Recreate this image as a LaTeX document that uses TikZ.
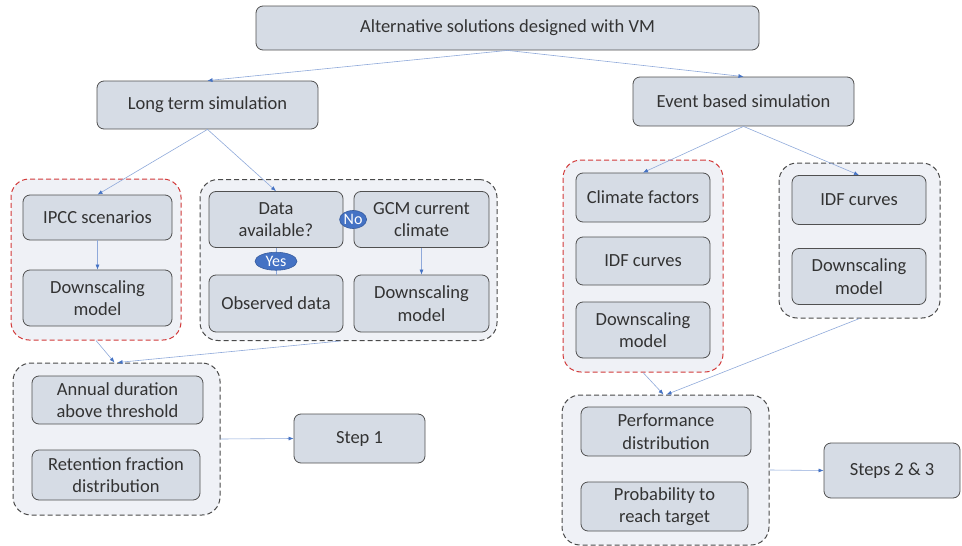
\documentclass[tikz,border=0pt]{standalone}
\usepackage{fontspec}
\setmainfont{Carlito}
\usetikzlibrary{arrows.meta,shapes.geometric}

\definecolor{boxfill}{HTML}{D6DCE5}
\definecolor{boxline}{HTML}{505050}
\definecolor{grpfill}{HTML}{EFF1F6}
\definecolor{grpred}{HTML}{D23A3A}
\definecolor{grpgrey}{HTML}{4A4A4A}
\definecolor{linkblue}{HTML}{8FA9DA}
\definecolor{tipblue}{HTML}{4472C4}

\begin{document}
\begin{tikzpicture}[x=1pt,y=-1pt,
  font=\fontsize{18.5}{22.5}\selectfont,
  box/.style={draw=boxline,line width=0.8pt,fill=boxfill,rounded corners=7pt,
    inner sep=0pt,align=center,text=black!80},
  grp/.style={draw=grpgrey,dashed,line width=1pt,fill=grpfill,rounded corners=18pt,
    inner sep=0pt,dash pattern=on 5pt off 3pt},
  redgrp/.style={grp,draw=grpred},
  link/.style={draw=linkblue,line width=0.6pt,
    -{Latex[length=5pt,width=4pt,color=tipblue]}},
  tag/.style={ellipse,fill=tipblue,draw=tipblue!80!black,inner sep=0pt,
    minimum width=27pt,minimum height=18pt,text=white,font=\fontsize{16}{18}\selectfont}]
\useasboundingbox (0,0) rectangle (962,546);

% top level
\node[box,minimum width=503,minimum height=44] (top) at (507.5,28) {Alternative solutions designed with VM};
\node[box,minimum width=221,minimum height=48] (long) at (207.5,105) {Long term simulation};
\node[box,minimum width=221,minimum height=49] (event) at (743.5,101.5) {Event based simulation};

% long term branch
\node[redgrp,minimum width=170,minimum height=161] (g1) at (96,259.5) {};
\node[grp,minimum width=297,minimum height=161] (g2) at (348.5,260) {};
\node[box,minimum width=149,minimum height=45] (ipcc) at (97.5,217.5) {IPCC scenarios};
\node[box,minimum width=149,minimum height=56] (down1) at (97.5,298) {Downscaling\\model};
\node[box,minimum width=134,minimum height=56] (data) at (276,219.5) {Data\\available?};
\node[box,minimum width=135,minimum height=56] (gcm) at (421.5,219.5) {GCM current\\climate};
\node[box,minimum width=134,minimum height=57] (obs) at (276,303.5) {Observed data};
\node[box,minimum width=135,minimum height=57] (down2) at (421.5,303.5) {Downscaling\\model};

\node[grp,minimum width=207,minimum height=152] (g5) at (116.5,439) {};
\node[box,minimum width=171,minimum height=48] (annual) at (117.5,400) {Annual duration\\above threshold};
\node[box,minimum width=168,minimum height=50] (retention) at (116,475) {Retention fraction\\distribution};
\node[box,minimum width=131,minimum height=49] (step1) at (359.5,438.5) {Step 1};

% event based branch
\node[redgrp,minimum width=160,minimum height=212] (g3) at (643,266) {};
\node[grp,minimum width=161,minimum height=155] (g4) at (859.5,240.5) {};
\node[box,minimum width=134,minimum height=49] (climate) at (643,197.5) {Climate factors};
\node[box,minimum width=134,minimum height=48] (idf1) at (643,261) {IDF curves};
\node[box,minimum width=134,minimum height=56] (down3) at (643,330) {Downscaling\\model};
\node[box,minimum width=134,minimum height=49] (idf2) at (859,200) {IDF curves};
\node[box,minimum width=134,minimum height=56] (down4) at (859,276.5) {Downscaling\\model};

\node[grp,minimum width=207,minimum height=150] (g6) at (665.5,470) {};
\node[box,minimum width=170,minimum height=49] (perf) at (666,431.5) {Performance\\distribution};
\node[box,minimum width=167,minimum height=49] (prob) at (664.5,506.5) {Probability to\\reach target};
\node[box,minimum width=136,minimum height=55] (steps) at (892,470.5) {Steps 2 \& 3};

% connectors
\draw[link] (top.south) -- (long.north);
\draw[link] (top.south) -- (event.north);
\draw[link] (long.south) -- (ipcc.north);
\draw[link] (long.south) -- (data.north);
\draw[link] (ipcc) -- (down1);
\draw[link] (gcm) -- (down2);
\draw[draw=linkblue,line width=0.6pt] (data) -- node[tag,minimum width=42pt] {Yes} (obs);
\draw[draw=linkblue,line width=0.6pt] (data) -- node[tag,pos=0.95] {No} (gcm);
\draw[link] (g1.south) -- ([xshift=-2pt]g5.north);
\draw[link] ([xshift=-8pt]g2.south) -- ([xshift=1pt]g5.north);
\draw[link] (g5.east) -- (step1.west);

\draw[link] (event.south) -- (climate.north);
\draw[link] (event.south) -- (idf2.north);
\draw[link] (g3.south) -- ([xshift=-2pt]g6.north);
\draw[link] (g4.south) -- ([xshift=1pt]g6.north);
\draw[link] (g6.east) -- (steps.west);

\end{tikzpicture}
\end{document}
